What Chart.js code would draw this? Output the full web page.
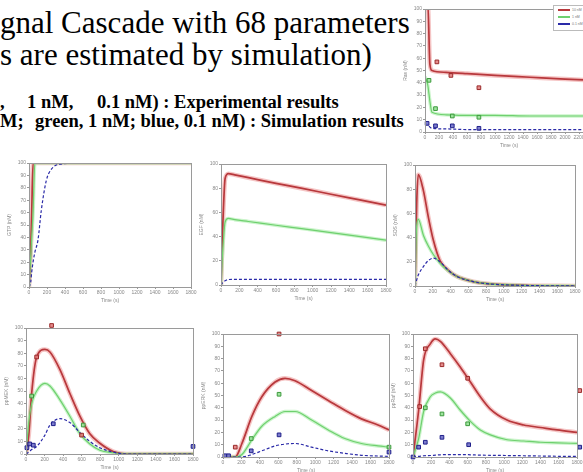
<!DOCTYPE html>
<html><head><meta charset="utf-8">
<script src="https://cdn.jsdelivr.net/npm/chart.js@4.4.1/dist/chart.umd.min.js"></script>
<style>
html,body{margin:0;padding:0;width:583px;height:472px;overflow:hidden;background:#fff;}
body{position:relative;}
.t{position:absolute;white-space:pre;font-family:"Liberation Serif","Times New Roman",serif;color:#000;line-height:1;}
.b{font-weight:bold;font-size:18.5px;}
canvas{position:absolute;}
#leg{position:absolute;left:553px;top:5px;width:40px;height:24px;border:1px solid #bbb;background:#fff;font:3.5px "Liberation Sans",sans-serif;color:#777;}
#leg div{height:7px;display:flex;align-items:center;}
#leg span.l{display:inline-block;width:12px;height:0;margin:0 2px 0 4px;}
</style></head><body>
<div class="t" style="left:0;top:7px;font-size:31px">gnal Cascade with 68 parameters</div>
<div class="t" style="left:0;top:39px;font-size:31px">s are estimated by simulation)</div>
<div class="t b" style="left:0;top:92.5px">,</div>
<div class="t b" style="left:27px;top:92.5px">1 nM,</div>
<div class="t b" style="left:97px;top:92.5px">0.1 nM) : Experimental results</div>
<div class="t b" style="left:0;top:111.5px">M;</div>
<div class="t b" style="left:35px;top:111.5px">green, 1 nM; blue, 0.1 nM) : Simulation results</div>

<canvas id="cA"></canvas><canvas id="cB"></canvas><canvas id="cC"></canvas><canvas id="cD"></canvas>
<canvas id="cE"></canvas><canvas id="cF"></canvas><canvas id="cG"></canvas>
<div id="leg">
 <div><span class="l" style="border-top:2px solid #b8383c"></span>10 nM</div>
 <div><span class="l" style="border-top:2px solid #6fd06f"></span>1 nM</div>
 <div><span class="l" style="border-top:2px dashed #2a2aa8"></span>0.1 nM</div>
</div>
<script>
// ---------- data (time in s, values in % of axis range) ----------
// Chart A (top right)
const A_t     = [0, 40, 70, 100, 300, 600, 1000, 1500, 2000, 2400];
const A_red   = [105, 105, 55, 50, 48.5, 47.5, 46, 44.5, 43, 42];
const A_green = [45, 38, 25, 16, 14, 13.5, 13.5, 13, 13, 13];
const A_blue  = [7, 6, 4, 3, 2.5, 2, 2, 2, 2, 2];
const A_expRedT = [170, 370, 770],      A_expRed = [57, 46, 36];
const A_expGreenT = [57, 150, 390, 770], A_expGreen = [42, 19, 13, 12];
const A_expBlueT = [30, 150, 390, 770],  A_expBlue = [7, 5, 5, 3];

// Chart B (middle left)
const B_t     = [0, 19, 30, 45, 65, 100, 137, 193, 249, 341, 600, 1000, 1400, 1800];
const B_red   = [0, 30, 60, 100, 100, 100, 100, 100, 100, 100, 100, 100, 100, 100];
const B_green = [0, 25, 40, 60, 100, 100, 100, 100, 100, 100, 100, 100, 100, 100];
const B_blue  = [0, 4, 12, 20, 28, 38, 62, 86, 95, 99, 100, 100, 100, 100];

// Chart C (middle centre)
const C_t     = [0, 20, 45, 80, 150, 300, 600, 900, 1200, 1500, 1800];
const C_red   = [0, 50, 88, 92, 91, 88.7, 84, 79.6, 75, 70.5, 66];
const C_green = [0, 30, 52, 55, 54, 52.5, 49.4, 46.4, 43.3, 40.2, 37];
const C_blue  = [0, 2, 3.5, 4.5, 4.7, 4.7, 4.7, 4.7, 4.7, 4.7, 4.7];

// Chart D (middle right)
const D_t     = [0, 19, 37, 94, 150, 206, 281, 375, 469, 656, 844, 1219, 1800];
const D_red   = [0, 68, 92, 79, 57, 38, 21, 13, 8, 3.6, 1.7, 0.5, 0];
const D_green = [0, 50, 55, 42, 33, 26, 19, 12.5, 8, 3.6, 1.7, 0.5, 0];
const D_blue  = [0, 5, 9, 16, 21, 23, 20, 13, 8, 3.6, 1.7, 0.5, 0];

// Chart E (bottom left)
const E_t     = [0, 30, 61, 115, 204, 258, 366, 473, 581, 688, 796, 940, 1083, 1300, 1800];
const E_red   = [0, 15, 48, 77, 83, 81, 67, 48, 30, 16, 8.5, 2, 0, 0, 0];
const E_green = [0, 25, 40, 50, 56, 54, 43, 30, 16, 8, 3, 1, 0, 0, 0];
const E_blue  = [0, 1.5, 3.5, 6, 15, 23, 28, 25, 17, 10, 5, 1.5, 0, 0, 0];
const E_expRedT = [115, 276, 599],            E_expRed = [77, 102, 15];
const E_expGreenT = [61, 617],                E_expGreen = [46, 23];
const E_expBlueT = [10, 40, 79, 294, 1800],   E_expBlue = [5, 8, 7, 24, 6];

// Chart F (bottom centre)
const F_t     = [0, 133, 205, 313, 421, 565, 673, 781, 961, 1141, 1321, 1501, 1681, 1800];
const F_red   = [0, 0, 11, 33, 49, 61, 64, 62, 54, 46, 38, 31, 26, 22];
const F_green = [0, 0, 2, 14, 25, 33, 37, 37, 30, 22, 15, 11, 9, 8];
const F_blue  = [0, 0, 0, 2, 5, 9, 10.5, 11, 8, 5, 3, 1.4, 0.8, 0.5];
const F_expRedT = [133, 608],                 F_expRed = [8, 100];
const F_expGreenT = [306, 608, 1800],         F_expGreen = [15, 51, 8];
const F_expBlueT = [20, 60, 306, 608, 1800],  F_expBlue = [1, 1, 5, 18, 4];

// Chart G (bottom right)
const G_t     = [0, 62, 117, 190, 245, 300, 410, 520, 630, 739, 849, 1032, 1215, 1398, 1581, 1800];
const G_red   = [0, 38, 79, 92, 96, 94, 84, 73, 61, 49, 39, 30, 26, 24, 22, 20];
const G_green = [0, 15, 37, 49, 52, 53, 48, 38, 29, 22, 18, 14, 13, 12, 11.5, 11];
const G_blue  = [0, 0.5, 1, 1.2, 1.5, 1.8, 2, 2, 1.8, 1.5, 1.4, 1.2, 1, 0.8, 0.6, 0.5];
const G_expRedT = [73, 135, 318, 600, 1830],       G_expRed = [41, 88, 75, 64, 54];
const G_expGreenT = [135, 318, 600],               G_expGreen = [40, 35, 27];
const G_expBlueT = [0, 62, 135, 318, 611, 1830],   G_expBlue = [0, 8, 12, 16, 10, 8];

// ---------- helpers ----------
const pts = (t, v) => t.map((x, i) => ({x, y: v[i]}));
const RED = '#b8383c', GREEN = '#6fd06f', BLUE = '#2a2aa8';
function curves(t, r, g, b) {
  return [
    {data: pts(t, r), borderColor: 'rgba(235,140,140,0.5)', borderWidth: 4.5, order: 10},
    {data: pts(t, r), borderColor: RED, borderWidth: 1.7, order: 5},
    {data: pts(t, g), borderColor: 'rgba(160,235,160,0.55)', borderWidth: 3.5, order: 9},
    {data: pts(t, g), borderColor: GREEN, borderWidth: 1.2, order: 4},
    {data: pts(t, b), borderColor: BLUE, borderWidth: 1.2, borderDash: [3, 2], order: 3}
  ];
}
function exps(rt, rv, gt, gv, bt, bv) {
  const s = (t, v, fill, line) => ({data: pts(t, v), showLine: false, pointStyle: 'rect',
    pointRadius: 2.6, pointBackgroundColor: fill, pointBorderColor: line, pointBorderWidth: 1, clip: false, order: 1});
  return [s(rt, rv, 'rgba(225,120,120,0.85)', '#9a2a2a'),
          s(gt, gv, 'rgba(150,225,150,0.9)', '#3d9a3d'),
          s(bt, bv, 'rgba(110,110,200,0.9)', '#20208a')];
}
const frame = {id: 'frame', afterDraw(c) {
  const a = c.chartArea, x = c.ctx; x.save(); x.strokeStyle = '#9a9a9a'; x.lineWidth = 1;
  x.strokeRect(Math.round(a.left) + 0.5, Math.round(a.top) + 0.5, Math.round(a.width), Math.round(a.height)); x.restore();
}};
const YW = 22, XH = 17, PT = 5, PR = 6;
function make(id, l, t, w, h, xMax, xStep, yStep, ds, ytitle) {
  const cv = document.getElementById(id);
  cv.width = YW + w + PR; cv.height = PT + h + XH;
  cv.style.left = (l - YW) + 'px'; cv.style.top = (t - PT) + 'px';
  const tickFont = {size: 5, family: 'Liberation Sans'};
  new Chart(cv, {
    type: 'line',
    data: {datasets: ds},
    plugins: [frame],
    options: {
      responsive: false, animation: false, devicePixelRatio: 1,
      layout: {padding: {top: PT, right: PR, left: 0, bottom: 0}},
      elements: {line: {tension: 0.4, cubicInterpolationMode: 'monotone', fill: false}, point: {radius: 0}},
      plugins: {legend: {display: false}, tooltip: {enabled: false}},
      scales: {
        x: {type: 'linear', min: 0, max: xMax,
            ticks: {stepSize: xStep, font: tickFont, color: '#888', padding: 1, maxRotation: 0, autoSkip: false, callback: v => String(v)},
            grid: {drawOnChartArea: false, tickLength: 2, color: '#999'}, border: {color: '#999'},
            title: {display: true, text: 'Time (s)', font: {size: 5, family: 'Liberation Sans'}, color: '#888', padding: 0},
            afterFit(s) { s.height = XH; s.paddingLeft = 0; s.paddingRight = 0; }},
        y: {min: 0, max: 100,
            ticks: {stepSize: yStep, font: tickFont, color: '#888', padding: 1, autoSkip: false, callback: v => String(v)},
            grid: {drawOnChartArea: false, tickLength: 2, color: '#999'}, border: {color: '#999'},
            title: {display: true, text: ytitle, font: {size: 5, family: 'Liberation Sans'}, color: '#888', padding: 0},
            afterFit(s) { s.width = YW; s.paddingTop = 0; s.paddingBottom = 0; }}
      }
    }
  });
}

make('cA', 425, 9, 168, 123, 2400, 200, 10,
  [...curves(A_t, A_red, A_green, A_blue), ...exps(A_expRedT, A_expRed, A_expGreenT, A_expGreen, A_expBlueT, A_expBlue)], 'Ras (nM)');
make('cB', 29, 163, 162, 124, 1800, 200, 10, curves(B_t, B_red, B_green, B_blue), 'GTP (nM)');
make('cC', 221, 164, 165, 121, 1800, 200, 20, curves(C_t, C_red, C_green, C_blue), 'EGF (nM)');
make('cD', 415, 165, 160, 121, 1800, 200, 20, curves(D_t, D_red, D_green, D_blue), 'SOS (nM)');
make('cE', 26, 328, 167, 126, 1800, 200, 10,
  [...curves(E_t, E_red, E_green, E_blue), ...exps(E_expRedT, E_expRed, E_expGreenT, E_expGreen, E_expBlueT, E_expBlue)], 'ppMEK (nM)');
make('cF', 223, 334, 166, 123, 1800, 200, 10,
  [...curves(F_t, F_red, F_green, F_blue), ...exps(F_expRedT, F_expRed, F_expGreenT, F_expGreen, F_expBlueT, F_expBlue)], 'ppERK (nM)');
make('cG', 413, 334, 164, 123, 1800, 200, 10,
  [...curves(G_t, G_red, G_green, G_blue), ...exps(G_expRedT, G_expRed, G_expGreenT, G_expGreen, G_expBlueT, G_expBlue)], 'ppRaf (nM)');
</script>
</body></html>
